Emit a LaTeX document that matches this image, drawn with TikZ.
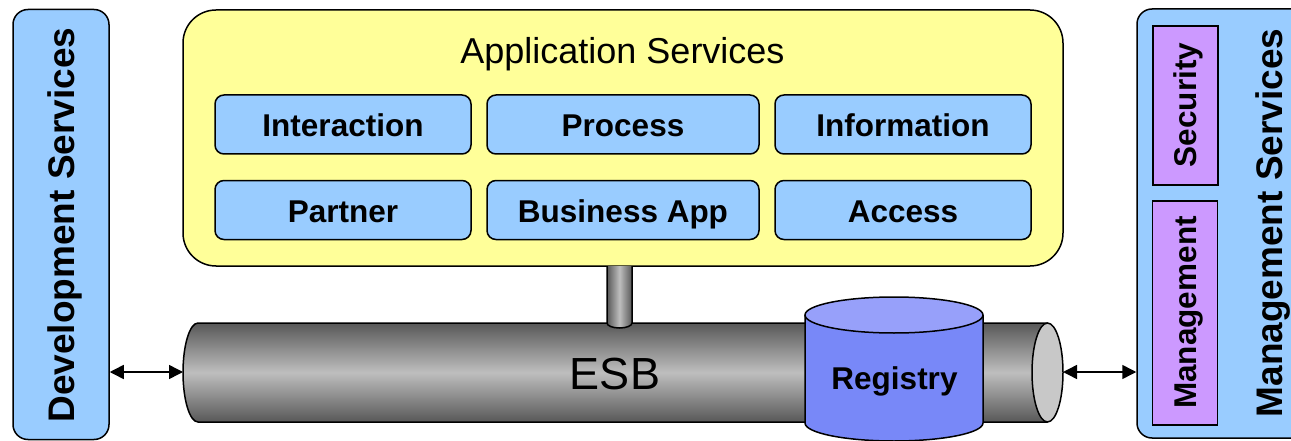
\documentclass[tikz,border=0pt]{standalone}
\usepackage{fontspec}
\setmainfont{Liberation Sans}
\usetikzlibrary{arrows.meta}
\definecolor{lblue}{RGB}{153,204,255}
\definecolor{lyellow}{RGB}{255,255,153}
\definecolor{lpurple}{RGB}{204,153,255}
\definecolor{regbody}{RGB}{120,136,248}
\definecolor{regtop}{RGB}{151,160,250}
\definecolor{esbdark}{RGB}{88,88,88}
\definecolor{esblight}{RGB}{190,190,190}
\definecolor{esbend}{RGB}{200,200,200}
\tikzset{
  outline/.style={draw=black, line width=1.5pt},
  sidebox/.style={outline, fill=lblue, rounded corners=15pt, rectangle, inner sep=0pt},
  appbox/.style={outline, fill=lyellow, rounded corners=33pt, rectangle, inner sep=0pt},
  svcbox/.style={outline, fill=lblue, rounded corners=9pt, rectangle, inner sep=0pt, minimum height=59pt},
  purplebox/.style={outline, fill=lpurple, rectangle, inner sep=0pt, minimum width=65pt},
  boldlbl/.style={font=\fontsize{31.5}{36}\selectfont\bfseries, inner sep=0pt, anchor=base},
  biglbl/.style={font=\fontsize{37}{42}\selectfont\bfseries, inner sep=0pt, anchor=base, rotate=90},
  link/.style={line width=1.5pt, {Triangle[length=14pt,width=14pt]}-{Triangle[length=14pt,width=14pt]}},
}
\begin{document}
\begin{tikzpicture}[x=1pt,y=1pt]
\useasboundingbox (0,0) rectangle (1291,440);
\clip (0,0) rectangle (1291,440);

% side boxes
\node[sidebox, minimum width=96pt, minimum height=430pt] (dev) at (61,215.5) {};
\node[sidebox, minimum width=175pt, minimum height=429pt] (mgmt) at (1224.5,216.5) {};
\node[purplebox, minimum height=159pt] (sec) at (1185.5,334.5) {};
\node[purplebox, minimum height=224pt] (man) at (1185,127) {};

% application services
\node[appbox, minimum width=880pt, minimum height=256pt] (app) at (623,302) {};
\node[svcbox, minimum width=256pt] (inter) at (343,315.5) {};
\node[svcbox, minimum width=272pt] (proc) at (623,315.5) {};
\node[svcbox, minimum width=256pt] (info) at (903,315.5) {};
\node[svcbox, minimum width=256pt] (part) at (343,230) {};
\node[svcbox, minimum width=272pt] (busi) at (623,230) {};
\node[svcbox, minimum width=256pt] (acc) at (903,230) {};

% ESB tube
\shade[top color=esbdark, bottom color=esbdark, middle color=esblight]
  (198,117) -- (1047.5,117) -- (1047.5,18) -- (198,18)
  arc[start angle=270, end angle=90, x radius=15pt, y radius=49.5pt] -- cycle;
\draw[line width=1.5pt] (1047.5,117) -- (198,117)
  arc[start angle=90, end angle=270, x radius=15pt, y radius=49.5pt] -- (1047.5,18);
\draw[outline, fill=esbend] (1047.5,67.5) ellipse[x radius=15.5pt, y radius=49.5pt];
\coordinate (esbL) at (183,68);
\coordinate (esbR) at (1063,68);

% stem
\shade[left color=esbdark, right color=esbdark, middle color=esblight]
  (607,174) -- (607,117) arc[start angle=180, end angle=360, x radius=12.5pt, y radius=5pt] -- (632,174) -- cycle;
\draw[line width=1.5pt] (607,174) -- (607,117) arc[start angle=180, end angle=360, x radius=12.5pt, y radius=5pt] -- (632,174);

% registry
\draw[outline, fill=regbody] (805,125) -- (805,17)
  arc[start angle=180, end angle=360, x radius=89pt, y radius=18pt] -- (983,125);
\draw[outline, fill=regtop] (894,125) ellipse[x radius=89pt, y radius=18pt];

% connectors
\draw[link] (dev.east |- esbL) -- (esbL);
\draw[link] (esbR) -- (mgmt.west |- esbR);

% labels
\node[inner sep=0pt, anchor=base, font=\fontsize{36}{40}\selectfont] (apptxt) at (622.5,376) {Application Services};
\node[boldlbl] (tinter) at (343,303) {Interaction};
\node[boldlbl] (tproc) at (623,303) {Process};
\node[boldlbl] (tinfo) at (903,303) {Information};
\node[boldlbl] (tpart) at (343,218) {Partner};
\node[boldlbl] (tbusi) at (623,218) {Business App};
\node[boldlbl] (tacc) at (903,218) {Access};
\node[inner sep=0pt, anchor=base, font=\fontsize{45}{50}\selectfont] (esbtxt) at (615,51) {ESB};
\node[boldlbl] (treg) at (894.5,51) {Registry};
\node[boldlbl, rotate=90] (tsec) at (1196,335) {Security};
\node[boldlbl, rotate=90] (tman) at (1196,127.5) {Management};
\node[biglbl] (tdev) at (74,215) {Development Services};
\node[biglbl] (tmgmt) at (1282,217) {Management Services};
\end{tikzpicture}
\end{document}
